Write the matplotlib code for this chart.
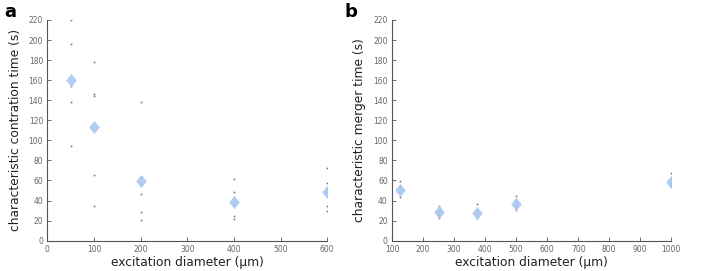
import matplotlib
matplotlib.use("Agg")
import matplotlib.pyplot as plt
from matplotlib.path import Path

plt.rcParams['font.family'] = ['DejaVu Sans']

# panel a: contraction time vs excitation diameter
diam_a = [50, 100, 200, 400, 600]
trials_a = [
    [220, 195.7, 153.7, 137.8, 93.9],
    [177.6, 146.4, 143.7, 65.9, 34.6],
    [137.8, 63.9, 46.6, 29.0, 20.7],
    [61.6, 48.3, 38.0, 25.0, 21.7],
    [72.9, 57.3, 48.3, 35.0, 29.3],
]
mean_a = [160.0, 113.5, 59.3, 38.6, 48.3]

# panel b: merger time vs excitation diameter
diam_b = [125, 250, 375, 500, 1000]
trials_b = [
    [59.6, 54, 51, 48, 43.3],
    [35, 31, 28, 26, 23],
    [37, 29, 27, 25, 23],
    [45, 40, 37, 34, 31],
    [67, 60, 57, 55, 54],
]
mean_b = [50.6, 28.3, 27.3, 37.0, 58.0]

yticks = list(range(0, 221, 20))
xticks_a = [0, 100, 200, 300, 400, 500, 600]
xticks_b = list(range(100, 1001, 100))

diamond = Path([(0, 1), (0.8, 0), (0, -1), (-0.8, 0), (0, 1)],
               [Path.MOVETO, Path.LINETO, Path.LINETO, Path.LINETO, Path.CLOSEPOLY])

fig = plt.figure(figsize=(7.06, 2.71), dpi=100)
ax1 = fig.add_axes([0.067, 0.112, 0.3966, 0.8144])
ax2 = fig.add_axes([0.5552, 0.112, 0.3956, 0.8144])


def draw(ax, xs, trials, means, xlim, xticks, ylabel):
    for x, vals in zip(xs, trials):
        ax.plot([x] * len(vals), vals, 's', color='#7a7a7a', markersize=1.2,
                markeredgewidth=0, zorder=2)
    ax.plot(xs, means, linestyle='none', marker=diamond, color='#a8c8ee',
            markersize=9.5, markeredgewidth=0, alpha=0.9, zorder=3)
    ax.set_xlim(*xlim)
    ax.set_ylim(0, 220)
    ax.set_xticks(xticks)
    ax.set_yticks(yticks)
    for s in ['top', 'right']:
        ax.spines[s].set_visible(False)
    for s in ['left', 'bottom']:
        ax.spines[s].set_color('#555555')
        ax.spines[s].set_linewidth(0.8)
    ax.tick_params(direction='in', length=3, width=0.6, color='#555555',
                   labelsize=5.5, labelcolor='#666666', pad=3)
    ax.set_xlabel('excitation diameter (\u03bcm)', fontsize=8.8, color='#222222', labelpad=1.5)
    ax.set_ylabel(ylabel, fontsize=8.8, color='#222222', labelpad=5)


draw(ax1, diam_a, trials_a, mean_a, (0, 600), xticks_a,
     'characteristic contration time (s)')
draw(ax2, diam_b, trials_b, mean_b, (100, 1000), xticks_b,
     'characteristic merger time (s)')

fig.text(0.006, 0.99, 'a', fontsize=13, fontweight='bold', va='top', ha='left')
fig.text(0.488, 0.99, 'b', fontsize=13, fontweight='bold', va='top', ha='left')

fig.savefig('out.png', dpi=100)
